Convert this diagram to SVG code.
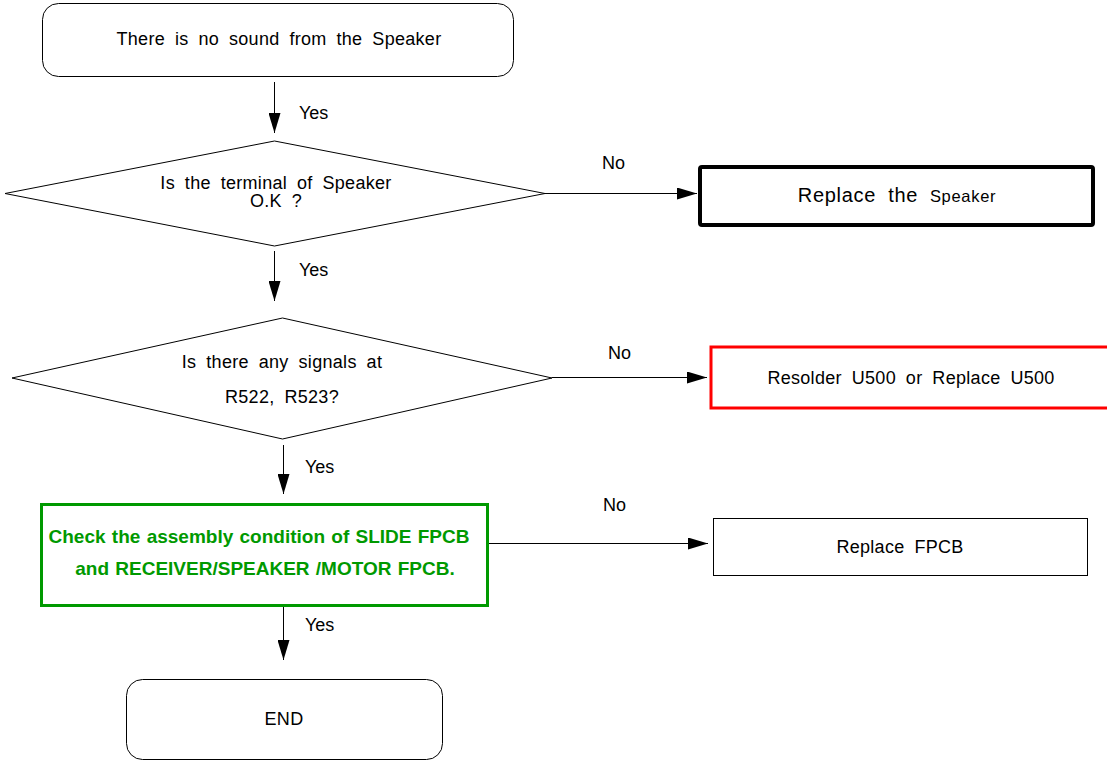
<svg xmlns="http://www.w3.org/2000/svg" width="1107" height="761" viewBox="0 0 1107 761">
<style>
  .t { font-family: "Liberation Sans", Arial, sans-serif; font-size: 18px; fill: #000; letter-spacing: 0.3px; word-spacing: 4.6px; }
  .lbl { font-family: "Liberation Sans", Arial, sans-serif; font-size: 18px; fill: #000; }
  .g { font-family: "Liberation Sans", Arial, sans-serif; font-size: 19px; font-weight: bold; fill: #009900; word-spacing: 1px; }
  .shape { fill: #fff; stroke: #000; stroke-width: 1; }
  .conn { stroke: #000; stroke-width: 1; fill: none; marker-end: url(#arr); }
</style>
<defs>
  <marker id="arr" markerUnits="userSpaceOnUse" markerWidth="20" markerHeight="12" refX="20" refY="6" orient="auto">
    <path d="M0,0 L20,6 L0,12 Z" fill="#000"/>
  </marker>
</defs>
<rect width="1107" height="761" fill="#fff"/>

<g id="connectors">
  <line class="conn" x1="274.5" y1="82" x2="274.5" y2="133"/>
  <line class="conn" x1="545" y1="193.5" x2="697" y2="193.5"/>
  <line class="conn" x1="274.5" y1="251" x2="274.5" y2="301"/>
  <line class="conn" x1="552" y1="377.5" x2="707" y2="377.5"/>
  <line class="conn" x1="283.5" y1="445" x2="283.5" y2="494"/>
  <line class="conn" x1="472" y1="543.5" x2="708" y2="543.5"/>
  <line class="conn" x1="283.5" y1="607" x2="283.5" y2="660"/>
  <text class="lbl" x="299" y="119">Yes</text>
  <text class="lbl" x="602" y="169">No</text>
  <text class="lbl" x="299" y="276">Yes</text>
  <text class="lbl" x="608" y="359">No</text>
  <text class="lbl" x="305" y="473">Yes</text>
  <text class="lbl" x="603" y="511">No</text>
  <text class="lbl" x="305" y="631">Yes</text>
</g>

<g id="start">
  <rect class="shape" x="42.5" y="3.5" width="471" height="73" rx="16"/>
  <text class="t" x="279" y="45" text-anchor="middle">There is no sound from the Speaker</text>
</g>

<g id="decision1">
  <polygon class="shape" points="274.5,141 545,193.5 274.5,246 5,193.5"/>
  <text class="t" x="276" y="189" text-anchor="middle">Is the terminal of Speaker</text>
  <text class="t" x="276" y="207" text-anchor="middle">O.K ?</text>
</g>

<g id="replace-speaker">
  <rect x="700" y="167" width="393" height="58" rx="2" fill="#fff" stroke="#000" stroke-width="4"/>
  <text class="t" x="897" y="202" text-anchor="middle" style="letter-spacing:0.7px;word-spacing:6px"><tspan font-size="20">Replace the</tspan> <tspan font-size="16.5">Speaker</tspan></text>
</g>

<g id="decision2">
  <polygon class="shape" points="282.5,318 552,378 282.5,439 12,378"/>
  <text class="t" x="282" y="368" text-anchor="middle">Is there any signals at</text>
  <text class="t" x="282" y="403" text-anchor="middle">R522, R523?</text>
</g>

<g id="resolder">
  <rect x="711" y="347" width="400" height="61" fill="#fff" stroke="#ff0000" stroke-width="3"/>
  <text class="t" x="911" y="384" text-anchor="middle">Resolder U500 or Replace U500</text>
</g>

<g id="check-assembly">
  <rect x="41.5" y="504.5" width="446" height="101" fill="#fff" stroke="#009900" stroke-width="3"/>
  <text class="g" x="259" y="543" text-anchor="middle">Check the assembly condition of SLIDE FPCB</text>
  <text class="g" x="265" y="575" text-anchor="middle">and RECEIVER/SPEAKER /MOTOR FPCB.</text>
</g>

<g id="replace-fpcb">
  <rect class="shape" x="713.5" y="518.5" width="374" height="57"/>
  <text class="t" x="900" y="553" text-anchor="middle">Replace FPCB</text>
</g>

<g id="end">
  <rect class="shape" x="126.5" y="679.5" width="316" height="80" rx="16"/>
  <text class="t" x="284" y="725" text-anchor="middle">END</text>
</g>
</svg>
